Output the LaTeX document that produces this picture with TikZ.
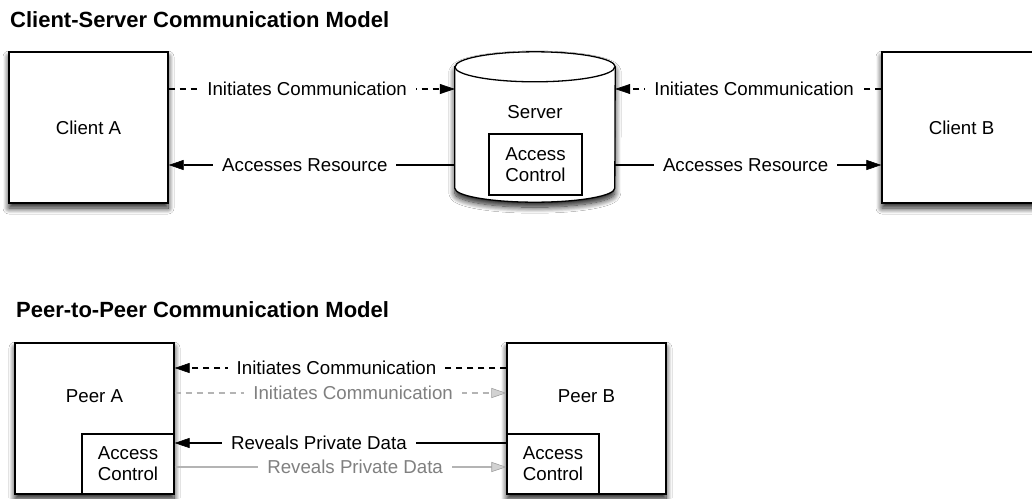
\documentclass[tikz,border=0pt]{standalone}
\usepackage{fontspec}
\setmainfont{Liberation Sans}
\usetikzlibrary{arrows.meta,shadows.blur}

\definecolor{softgray}{HTML}{B4B4B4}
\definecolor{labelgray}{HTML}{808080}
\definecolor{tipgray}{HTML}{D2D2D2}
\definecolor{tipedge}{HTML}{A0A0A0}

\tikzset{
  every node/.style={font=\fontsize{18.7}{21}\selectfont, inner sep=0pt},
  heading/.style={font=\fontsize{22}{26}\selectfont\bfseries, anchor=base west},
  softshadow/.style={blur shadow={shadow xshift=0pt, shadow yshift=-5pt,
      shadow blur radius=6pt, shadow opacity=90, shadow blur steps=12}},
  party/.style={draw, line width=1.3pt, fill=white, minimum width=159pt,
      minimum height=151pt, softshadow},
  acbox/.style={draw, line width=1.2pt, fill=white, minimum width=92pt,
      minimum height=60pt, align=center},
  link/.style={line width=1.1pt},
  dashlink/.style={link, dash pattern=on 6pt off 5pt},
  headtip/.style={-{Triangle[length=15pt,width=10pt,color=black,fill=black,line width=0.6pt]}},
  grayheadtip/.style={-{Triangle[length=15pt,width=10pt,color=tipedge,fill=tipgray,line width=0.6pt]}},
  tag/.style={fill=white, inner xsep=9pt, inner ysep=2pt},
}

\begin{document}
\begin{tikzpicture}[x=1pt,y=1pt]
  \clip (0,0) rectangle (1032,-498);
  \fill[white] (0,0) rectangle (1032,-498);

  % ---------- client-server model ----------
  \node[heading] (t1) at (10,-27) {Client-Server Communication Model};

  \node[party] (cA) at (88.5,-127.5) {Client A};
  \node[party] (cB) at (961.5,-127.5) {Client B};

  % server cylinder: side region as a node, outline drawn around it
  \node[minimum width=160pt, minimum height=121pt] (srv) at (535,-127.5) {};
  \path[draw, line width=1.3pt, fill=white, softshadow]
    (srv.north west) -- (srv.south west)
    arc[start angle=180, end angle=360, x radius=80pt, y radius=14pt]
    -- (srv.north east)
    arc[start angle=0, end angle=180, x radius=80pt, y radius=15pt] -- cycle;
  \draw[line width=1.3pt] (srv.north west)
    arc[start angle=180, end angle=360, x radius=80pt, y radius=15pt];
  \node (srvname) at (535,-112) {Server};
  \node[acbox, minimum width=93pt, minimum height=61pt] (srvac) at (535.5,-164.5) {Access\\Control};

  \draw[dashlink, headtip] (cA.east |- 0,-89)
    -- node[tag, pos=0.484] {Initiates Communication} (srv.west |- 0,-89);
  \draw[link, headtip] (srv.west |- 0,-165)
    -- node[tag, pos=0.524] {Accesses Resource} (cA.east |- 0,-165);
  \draw[dashlink, headtip] (cB.west |- 0,-89)
    -- node[tag, pos=0.478] {Initiates Communication} (srv.east |- 0,-89);
  \draw[link, headtip] (srv.east |- 0,-165)
    -- node[tag, pos=0.49] {Accesses Resource} (cB.west |- 0,-165);

  % ---------- peer-to-peer model ----------
  \node[heading] (t2) at (16,-317) {Peer-to-Peer Communication Model};

  \node[party] (pA) at (94.5,-418.5) {};
  \node[party] (pB) at (586.5,-418.5) {};
  \node (pAname) at (94.5,-396) {Peer A};
  \node (pBname) at (586.5,-396) {Peer B};
  \node[acbox] (pAac) at (128,-464) {Access\\Control};
  \node[acbox] (pBac) at (553,-464) {Access\\Control};

  \draw[dashlink, headtip] (pB.west |- 0,-368)
    -- node[tag, pos=0.512] {Initiates Communication} (pA.east |- 0,-368);
  \draw[dashlink, softgray, grayheadtip] (pA.east |- 0,-393)
    -- node[tag, pos=0.538, text=labelgray] {Initiates Communication} (pB.west |- 0,-393);
  \draw[link, headtip] (pB.west |- 0,-443)
    -- node[tag, pos=0.565] {Reveals Private Data} (pAac.east |- 0,-443);
  \draw[link, softgray, grayheadtip] (pAac.east |- 0,-467)
    -- node[tag, pos=0.544, text=labelgray] {Reveals Private Data} (pBac.west |- 0,-467);
\end{tikzpicture}
\end{document}
